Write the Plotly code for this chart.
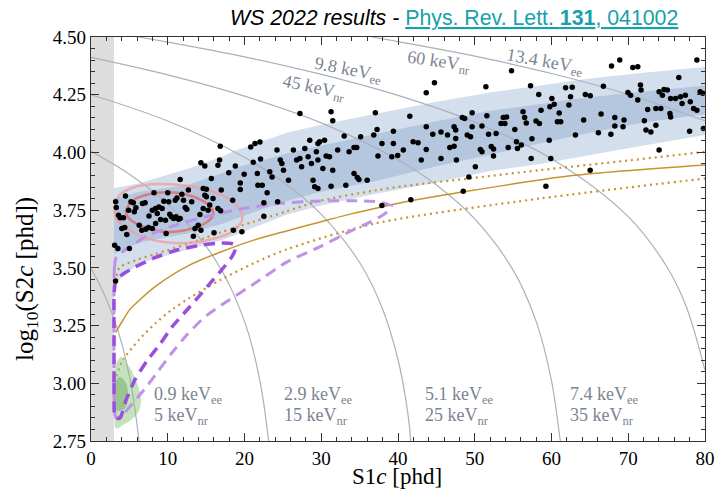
import plotly.graph_objects as go

# ---------------- data ----------------
S1_THRESHOLD = 3.0  # S1c analysis threshold [phd]

# ER band (S1c, log10 S2c): outer and inner edges
band_s1 = [3, 6.3, 12.7, 17, 19, 25.5, 30, 37, 45, 52, 58.5, 65, 72, 80]
band_outer_hi = [3.845, 3.867, 3.93, 3.98, 4.01, 4.085, 4.12, 4.165, 4.22, 4.26, 4.29, 4.32, 4.345, 4.37]
band_inner_hi = [3.80, 3.83, 3.86, 3.91, 3.935, 3.995, 4.03, 4.08, 4.135, 4.18, 4.21, 4.24, 4.265, 4.29]
band_inner_lo = [3.56, 3.61, 3.65, 3.69, 3.715, 3.79, 3.83, 3.875, 3.94, 3.99, 4.04, 4.085, 4.13, 4.165]
band_outer_lo = [3.43, 3.52, 3.58, 3.62, 3.645, 3.73, 3.77, 3.82, 3.87, 3.92, 3.95, 3.99, 4.03, 4.075]

# NR band: median and 10%/90% quantiles
nr_med_s1 = [3.2, 4.15, 5.0, 6.3, 8.4, 12.7, 17, 21.2, 25.5, 30, 34, 38, 41, 50, 62.7, 80]
nr_med = [3.22, 3.273, 3.317, 3.36, 3.42, 3.51, 3.57, 3.62, 3.66, 3.70, 3.735, 3.765, 3.786, 3.837, 3.90, 3.946]
nr_hi_s1 = [3.2, 3.7, 6, 8.4, 12.7, 17, 21.2, 25.5, 29.8, 37, 41, 50, 58.4, 70, 80]
nr_hi = [3.44, 3.50, 3.535, 3.56, 3.605, 3.655, 3.70, 3.745, 3.79, 3.835, 3.855, 3.89, 3.923, 3.965, 4.003]
nr_lo_s1 = [3.3, 4.15, 6.3, 8.4, 10.6, 12.7, 17, 21.2, 25.5, 37, 58.4, 80]
nr_lo = [3.03, 3.10, 3.19, 3.26, 3.32, 3.367, 3.45, 3.52, 3.58, 3.692, 3.80, 3.887]

# constant-energy contours: (keVee, keVnr, S1c list, log10 S2c list)
contours = [
    ("0.9", "5", [0, 1, 2, 3, 4, 5, 5.5, 6, 6.25],
     [3.497, 3.436, 3.364, 3.279, 3.173, 3.031, 2.939, 2.820, 2.75]),
    ("2.9", "15", [0, 5, 10, 15, 18, 20, 21, 22, 22.5, 23, 23.15],
     [4.005, 3.906, 3.777, 3.593, 3.428, 3.268, 3.159, 3.012, 2.914, 2.789, 2.75]),
    ("5.1", "25", [0, 10, 20, 25, 30, 35, 38, 40, 41, 41.5, 41.65],
     [4.250, 4.136, 3.979, 3.873, 3.732, 3.523, 3.321, 3.103, 2.932, 2.812, 2.75]),
    ("7.4", "35", [0, 10, 20, 30, 40, 45, 50, 55, 58, 60, 61, 61.15],
     [4.412, 4.336, 4.244, 4.128, 3.968, 3.859, 3.712, 3.490, 3.268, 3.011, 2.787, 2.75]),
    ("9.8", "45", [6.2, 10, 20, 30, 40, 50, 60, 70, 75, 77.5, 80],
     [4.5, 4.478, 4.414, 4.338, 4.247, 4.131, 3.973, 3.722, 3.506, 3.337, 3.056]),
    ("13.4", "60", [36.6, 40, 50, 60, 70, 80],
     [4.5, 4.480, 4.417, 4.342, 4.251, 4.137]),
]

# 37Ar contours (inner, outer)
ar_inner_s1 = [4.66, 5.64, 7.56, 9.7, 12.27, 14.4, 15.68, 15.9, 14.83, 12.27, 9.7, 7.14, 5.21, 4.57, 4.66]
ar_inner = [3.757, 3.796, 3.819, 3.828, 3.819, 3.793, 3.761, 3.728, 3.692, 3.663, 3.656, 3.675, 3.706, 3.735, 3.757]
ar_outer_s1 = [3.08, 3.72, 5.43, 8.42, 11.84, 15.26, 18.25, 19.74, 18.68, 16.11, 12.69, 9.27, 6.28, 4.15, 3.21, 3.08]
ar_outer = [3.750, 3.815, 3.847, 3.863, 3.858, 3.837, 3.793, 3.721, 3.663, 3.627, 3.608, 3.613, 3.641, 3.685, 3.721, 3.750]

# 8B region (outer, inner)
b8_outer_s1 = [3.5, 3.93, 5.0, 5.86, 6.5, 6.28, 5.42, 4.14, 3.29, 3.05, 3.05, 3.05, 3.5]
b8_outer = [3.10, 3.114, 3.071, 3.013, 2.94, 2.883, 2.847, 2.818, 2.804, 2.854, 2.955, 3.056, 3.10]
b8_inner_s1 = [3.15, 3.72, 4.58, 4.78, 4.36, 3.29, 3.08, 3.15]
b8_inner = [3.0, 3.027, 2.999, 2.94, 2.89, 2.883, 2.955, 3.0]

# WIMP contours (inner, outer)
wimp_inner_s1 = [3.0, 3.0, 3.05, 3.3, 3.8, 4.6, 5.8, 7.35, 9.0, 10.55, 12.3, 14.0, 15.7, 17.0, 18.3, 18.8,
                 18.6, 17.0, 14.0, 11.0, 8.4, 5.5, 3.8, 3.2, 3.0, 3.0]
wimp_inner = [3.2, 3.0, 2.87, 2.848, 2.85, 2.93, 3.02, 3.10, 3.17, 3.244, 3.31, 3.374, 3.44, 3.49, 3.545, 3.58,
              3.603, 3.608, 3.597, 3.575, 3.545, 3.50, 3.465, 3.44, 3.38, 3.2]
wimp_outer_s1 = [3.0, 3.05, 3.3, 5.0, 7.14, 10.5, 14.83, 19.5, 24.4, 29.8, 35.0, 37.5, 39.2, 38.3, 36.5, 34.06,
                 29.8, 25.5, 21.2, 17.5, 14.8, 12.5, 10.5, 8.7, 7.1, 5.0, 4.0, 3.3, 3.05, 3.0, 3.0]
wimp_outer = [3.40, 3.50, 3.548, 3.59, 3.635, 3.68, 3.721, 3.755, 3.779, 3.79, 3.79, 3.786, 3.767, 3.735, 3.70,
              3.663, 3.591, 3.525, 3.43, 3.35, 3.287, 3.21, 3.13, 3.05, 2.98, 2.896, 2.86, 2.85, 2.88, 3.1, 3.40]

# WS2022 events (S1c, log10 S2c)
ev_s1 = [
    68.89, 67.82, 70.60, 71.24, 54.79, 44.75, 43.68, 51.45, 57.27, 61.84, 62.70, 66.76, 76.59, 78.94, 58.34,
    60.05, 64.41, 65.05, 62.48, 69.96, 70.30, 71.59, 71.67, 71.24, 74.02, 74.66, 75.09, 74.45, 75.52, 76.16,
    76.80, 77.44, 77.01, 78.08, 78.51, 78.94, 79.36, 79.70, 79.79, 77.99, 27.22, 31.28, 31.50, 37.05, 41.54,
    49.66, 48.38, 48.68, 51.58, 53.72, 54.15, 53.42, 53.93, 56.29, 56.50, 56.71, 57.99, 58.42, 58.64, 59.79,
    60.35, 61.00, 62.27, 60.77, 61.20, 64.19, 66.46, 68.25, 69.45, 69.32, 68.25, 72.10, 72.31, 72.95, 73.60,
    72.53, 73.60, 74.24, 75.52, 75.43, 28.50, 29.57, 29.79, 30.43, 32.99, 35.13, 36.84, 37.27, 37.91, 39.40,
    39.40, 40.69, 41.97, 42.61, 43.68, 43.68, 44.53, 45.60, 46.45, 46.75, 47.31, 47.52, 47.52, 47.31, 49.02,
    49.45, 49.66, 50.94, 51.80, 52.78, 50.73, 50.94, 52.15, 52.45, 52.44, 54.36, 55.22, 55.43, 55.56, 56.07,
    57.45, 59.70, 63.12, 66.11, 67.74, 24.23, 24.66, 24.87, 25.08, 25.73, 26.37, 26.79, 27.22, 27.44, 27.86,
    28.29, 28.72, 28.93, 29.14, 29.57, 29.36, 29.57, 30.21, 30.64, 31.07, 31.28, 31.50, 32.14, 33.20, 33.63,
    34.27, 34.62, 34.27, 34.70, 34.91, 35.98, 37.39, 39.19, 39.96, 43.03, 45.60, 47.61, 49.23, 50.08, 48.50,
    57.35, 59.91, 59.27, 65.04, 74.02, 41.67, 37.90,
    16.84, 20.81, 21.37, 22.01, 16.54, 16.75, 14.32, 14.83, 11.62, 15.68, 14.62, 15.04, 17.95, 18.80, 19.45,
    19.45, 19.96, 21.15, 22.09, 21.67, 21.75, 22.31, 22.95, 23.29, 23.59, 22.52, 22.52, 24.32,
    3.21, 3.29, 3.59, 3.80, 4.23, 4.02, 4.40, 4.66, 4.49, 5.21, 5.51, 5.85, 4.90, 5.64, 6.28, 6.62, 6.71, 7.05,
    7.56, 7.99, 8.42, 8.63, 8.85, 9.06, 9.27, 9.49, 9.70, 9.79, 10.00, 10.13, 10.26, 10.47, 10.77, 10.98,
    11.07, 11.20, 11.41, 11.62, 11.84, 12.05, 12.27, 12.48, 12.69, 13.12, 13.33, 13.55, 13.97, 14.19, 14.32,
    14.62, 14.83, 15.04, 15.26, 15.47, 15.90, 16.03, 16.54, 16.88, 16.97, 18.46, 18.55, 19.66, 7.14, 7.48,
    7.99, 8.42, 8.21, 3.08, 3.50, 5.00, 3.20,
]
ev_log_s2 = [
    4.400, 4.374, 4.368, 4.371, 4.354, 4.302, 4.258, 4.284, 4.289, 4.280, 4.282, 4.287, 4.325, 4.400, 4.251,
    4.234, 4.251, 4.245, 4.241, 4.260, 4.248, 4.292, 4.270, 4.227, 4.263, 4.273, 4.270, 4.248, 4.234, 4.234,
    4.241, 4.248, 4.212, 4.219, 4.190, 4.183, 4.263, 4.256, 4.104, 4.092, 4.169, 4.176, 4.137, 4.172, 4.157,
    4.172, 4.151, 4.147, 4.159, 4.151, 4.154, 4.125, 4.125, 4.176, 4.151, 4.128, 4.136, 4.125, 4.183, 4.198,
    4.209, 4.171, 4.205, 4.133, 4.133, 4.140, 4.166, 4.151, 4.140, 4.111, 4.114, 4.137, 4.097, 4.089, 4.118,
    4.186, 4.190, 4.190, 4.154, 4.169, 4.053, 4.039, 4.046, 4.053, 4.071, 4.068, 4.075, 4.099, 4.039, 4.092,
    4.039, 4.010, 4.046, 4.042, 4.111, 4.013, 4.079, 4.089, 4.075, 4.021, 4.111, 4.097, 4.060, 4.027, 4.075,
    4.068, 4.111, 4.114, 4.079, 4.082, 4.013, 4.003, 4.026, 4.015, 3.984, 4.021, 4.099, 4.046, 4.017, 4.032,
    4.059, 4.053, 4.075, 4.085, 4.079, 4.010, 3.967, 3.952, 3.923, 3.880, 4.010, 3.967, 3.974, 3.938, 4.017,
    3.981, 3.952, 3.880, 3.851, 3.844, 4.003, 3.967, 3.930, 3.984, 3.981, 3.854, 3.923, 4.010, 3.858, 4.003,
    4.021, 4.021, 3.909, 3.891, 3.883, 3.880, 3.985, 3.981, 3.987, 3.967, 3.974, 3.967, 3.894, 3.938, 3.832,
    3.974, 3.974, 3.854, 3.923, 4.010, 3.795, 3.770,
    4.027, 4.024, 4.039, 4.045, 3.945, 3.967, 3.955, 3.941, 3.883, 3.887, 3.844, 3.841, 3.912, 3.941, 3.868,
    3.839, 3.906, 3.957, 3.971, 3.909, 3.858, 3.858, 3.825, 3.916, 3.894, 3.782, 3.724, 3.786,
    3.786, 3.761, 3.728, 3.717, 3.717, 3.670, 3.675, 3.644, 3.811, 3.786, 3.782, 3.760, 3.750, 3.743, 3.685,
    3.663, 3.779, 3.782, 3.725, 3.750, 3.757, 3.735, 3.764, 3.709, 3.757, 3.789, 3.706, 3.649, 3.825, 3.786,
    3.732, 3.721, 3.714, 3.793, 3.721, 3.803, 3.711, 3.714, 3.819, 3.793, 3.761, 3.754, 3.837, 3.786, 3.637,
    3.670, 3.685, 3.731, 3.663, 3.757, 3.815, 3.808, 3.750, 3.772, 3.800, 3.652, 3.757, 3.747, 3.837, 3.793,
    3.663, 3.656, 3.667, 3.675, 3.670, 3.692, 3.825, 3.598, 3.584, 3.584, 3.443,
]

# ---------------- figure ----------------
SERIF = "Liberation Serif"
fig = go.Figure()

fig.add_shape(type="rect", xref="x", yref="y", x0=0, x1=S1_THRESHOLD, y0=2.75, y1=4.5,
              fillcolor="#dddddd", line_width=0, layer="below")


def band(lo, hi, color):
    fig.add_trace(go.Scatter(x=band_s1 + band_s1[::-1], y=lo + hi[::-1], fill="toself",
                             fillcolor=color, line=dict(width=0), mode="lines",
                             hoverinfo="skip", showlegend=False))


band(band_outer_lo, band_outer_hi, "#d4dfed")
band(band_inner_lo, band_inner_hi, "#b5c7de")

for ee, nr, xs, ys in contours:
    fig.add_trace(go.Scatter(x=xs, y=ys, mode="lines", line=dict(color="#a9b1bb", width=1.2, shape="spline"),
                             hoverinfo="skip", showlegend=False))

gold = "#c6932f"
fig.add_trace(go.Scatter(x=nr_med_s1, y=nr_med, mode="lines",
                         line=dict(color=gold, width=1.5, shape="spline", smoothing=0.8), showlegend=False))
for xs, ys in [(nr_hi_s1, nr_hi), (nr_lo_s1, nr_lo)]:
    fig.add_trace(go.Scatter(x=xs, y=ys, mode="lines",
                             line=dict(color=gold, width=2.2, dash="2px,4px", shape="spline", smoothing=0.8),
                             showlegend=False))

fig.add_trace(go.Scatter(x=b8_outer_s1, y=b8_outer, fill="toself", fillcolor="rgba(140,195,125,0.5)",
                         line=dict(width=0, shape="spline"), mode="lines", showlegend=False))
fig.add_trace(go.Scatter(x=b8_inner_s1, y=b8_inner, fill="toself", fillcolor="rgba(110,170,95,0.5)",
                         line=dict(width=0, shape="spline"), mode="lines", showlegend=False))

fig.add_trace(go.Scatter(x=ar_outer_s1, y=ar_outer, mode="lines",
                         line=dict(color="rgba(236,160,160,0.8)", width=2.5, shape="spline"), showlegend=False))
fig.add_trace(go.Scatter(x=ar_inner_s1, y=ar_inner, mode="lines",
                         line=dict(color="rgba(222,110,110,0.85)", width=2.5, shape="spline"), showlegend=False))

fig.add_trace(go.Scatter(x=wimp_outer_s1, y=wimp_outer, mode="lines",
                         line=dict(color="#bd93e8", width=3, dash="11px,7px", shape="spline", smoothing=0.5),
                         showlegend=False))
fig.add_trace(go.Scatter(x=wimp_inner_s1, y=wimp_inner, mode="lines",
                         line=dict(color="#9a4fdc", width=3.5, dash="11px,7px", shape="spline", smoothing=0.5),
                         showlegend=False))

fig.add_trace(go.Scatter(x=ev_s1, y=ev_log_s2, mode="markers",
                         marker=dict(color="black", size=5.5, line_width=0), showlegend=False))

# contour labels
label_font = dict(family=SERIF, size=18, color="#7b8491")
bottom_labels = [("0.9", "5", 8.0), ("2.9", "15", 24.9), ("5.1", "25", 43.2), ("7.4", "35", 62.1)]
for ee, nr, x in bottom_labels:
    fig.add_annotation(x=x, y=2.948, text=f"{ee} keV<sub>ee</sub>", showarrow=False,
                       xanchor="left", yanchor="middle", font=label_font)
    fig.add_annotation(x=x, y=2.855, text=f"{nr} keV<sub>nr</sub>", showarrow=False,
                       xanchor="left", yanchor="middle", font=label_font)
top_labels = [("9.8 keV<sub>ee</sub>", 33.5, 4.355, 11), ("45 keV<sub>nr</sub>", 29.1, 4.275, 12),
              ("60 keV<sub>nr</sub>", 45.4, 4.39, 8), ("13.4 keV<sub>ee</sub>", 59.2, 4.39, 10)]
for txt, x, y, ang in top_labels:
    fig.add_annotation(x=x, y=y, text=txt, showarrow=False, textangle=ang, font=label_font)

fig.add_annotation(xref="paper", yref="paper", x=0.96, y=1.047, xanchor="right", yanchor="middle",
                   showarrow=False,
                   text="<i>WS 2022 results -</i> <span style='color:#17a0ab'><u>Phys. Rev. Lett. <b>131</b>, 041002</u></span>",
                   font=dict(family="Liberation Sans", size=21.3, color="black"))
fig.add_annotation(xref="paper", yref="paper", x=0.498, y=-0.124, xanchor="center", yanchor="bottom",
                   showarrow=False, text="S1<i>c</i> [phd]", font=dict(family=SERIF, size=23, color="black"))
fig.add_annotation(xref="paper", yref="paper", x=-0.105, y=0.40, xanchor="center", yanchor="middle",
                   showarrow=False, textangle=-90, text="log<sub>10</sub>(S2<i>c</i> [phd])",
                   font=dict(family=SERIF, size=25, color="black"))

axis_common = dict(showgrid=False, zeroline=False, showline=True, linecolor="#333", linewidth=1.3,
                   mirror="ticks", ticks="inside", ticklen=8, tickwidth=1.2, tickcolor="#333",
                   tickfont=dict(family=SERIF, size=19, color="black"))
fig.update_xaxes(range=[0, 80], dtick=10, tick0=0,
                 minor=dict(ticks="inside", dtick=2, ticklen=4, tickwidth=1, tickcolor="#333"),
                 **axis_common)
fig.update_yaxes(range=[2.75, 4.5], dtick=0.25, tick0=2.75, tickformat=".2f",
                 minor=dict(ticks="inside", dtick=0.05, ticklen=4, tickwidth=1, tickcolor="#333"),
                 **axis_common)

fig.update_layout(width=726, height=492, margin=dict(l=91, r=11, t=37, b=51),
                  plot_bgcolor="white", paper_bgcolor="white", showlegend=False)

fig.write_html("out.html")
